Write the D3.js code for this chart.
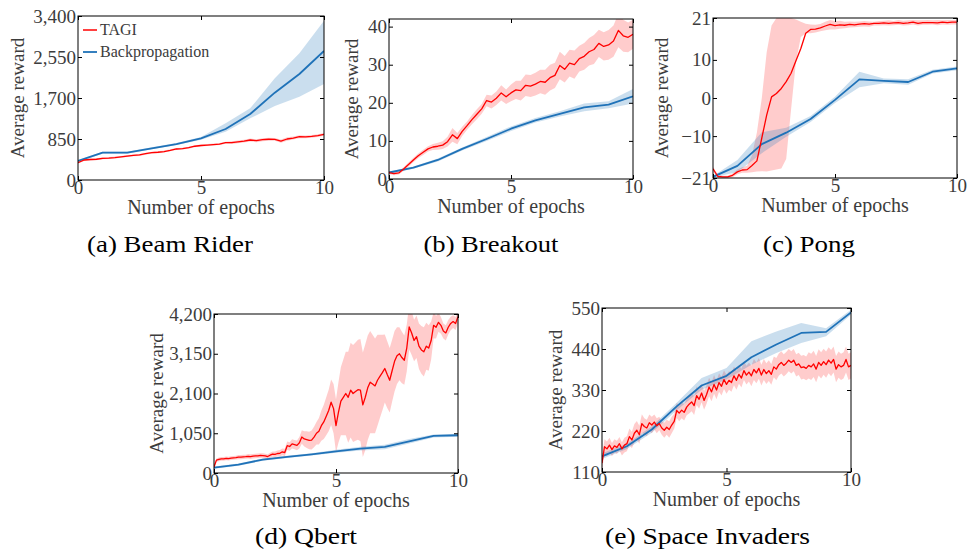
<!DOCTYPE html>
<html><head><meta charset="utf-8">
<script src="https://cdn.jsdelivr.net/npm/d3@7"></script>
<style>
body{margin:0;background:#fff}
svg{display:block}
text{font-family:"Liberation Serif","Times New Roman",serif}
</style>
</head><body>
<svg id="chart" width="967" height="552"></svg>
<script>
// ---------------- DATA ----------------
const seriesNames = ["TAGI", "Backpropagation"];
const xTicks = [0, 5, 10];
const bpEpochs = [0,1,2,3,4,5,6,7,8,9,10];
const epochsQuarter = [0,0.25,0.5,0.75,1,1.25,1.5,1.75,2,2.25,2.5,2.75,3,3.25,3.5,3.75,4,4.25,4.5,4.75,5,5.25,5.5,5.75,6,6.25,6.5,6.75,7,7.25,7.5,7.75,8,8.25,8.5,8.75,9,9.25,9.5,9.75,10];
const epochsFifth = [0,0.2,0.4,0.6,0.8,1,1.2,1.4,1.6,1.8,2,2.2,2.4,2.6,2.8,3,3.2,3.4,3.6,3.8,4,4.2,4.4,4.6,4.8,5,5.2,5.4,5.6,5.8,6,6.2,6.4,6.6,6.8,7,7.2,7.4,7.6,7.8,8,8.2,8.4,8.6,8.8,9,9.2,9.4,9.6,9.8,10];
const epochsTenth = [0,0.1,0.2,0.3,0.4,0.5,0.6,0.7,0.8,0.9,1,1.1,1.2,1.3,1.4,1.5,1.6,1.7,1.8,1.9,2,2.1,2.2,2.3,2.4,2.5,2.6,2.7,2.8,2.9,3,3.1,3.2,3.3,3.4,3.5,3.6,3.7,3.8,3.9,4,4.1,4.2,4.3,4.4,4.5,4.6,4.7,4.8,4.9,5,5.1,5.2,5.3,5.4,5.5,5.6,5.7,5.8,5.9,6,6.1,6.2,6.3,6.4,6.5,6.6,6.7,6.8,6.9,7,7.1,7.2,7.3,7.4,7.5,7.6,7.7,7.8,7.9,8,8.1,8.2,8.3,8.4,8.5,8.6,8.7,8.8,8.9,9,9.1,9.2,9.3,9.4,9.5,9.6,9.7,9.8,9.9,10];

// (a) Beam Rider
const beamTicks = [0, 850, 1700, 2550, 3400];
const beamTagi = [360,415,425,430,450,455,465,480,497,510,520,545,566,575,590,615,643,650,670,700,715,725,735,745,773,775,790,805,829,815,835,845,843,805,850,870,898,895,905,920,945];
const beamTagiSpread = [20,20,20,20,20,20,20,20,20,20,20,20,20,20,20,20,20,20,20,20,20,20,20,20,20,30,30,30,30,30,30,30,30,35,35,30,30,30,30,30,30];
const beamBp = [394,566,566,657,746,864,1057,1368,1810,2198,2674];
const beamBpLow = [374,546,546,637,726,834,1001,1279,1534,1727,1990];
const beamBpHigh = [414,586,586,677,766,894,1175,1486,2108,2626,3303];

// (b) Breakout
const breakoutTicks = [0, 10, 20, 30, 40];
const breakoutTagi = [1.7,1.4,1.6,2.6,3.8,5.0,6.1,7.0,7.9,8.4,8.6,8.9,9.8,11.6,10.6,12.5,14.0,15.6,17.0,18.4,20.6,20.2,21.2,22.6,21.6,22.6,23.4,23.2,24.6,24.4,24.9,25.6,25.4,26.6,27.2,29.8,28.8,30.4,30.0,31.6,32.2,33.4,34.0,35.6,34.8,35.2,36.2,39.0,37.6,37.2,38.0];
const breakoutTagiSpread = [0.4,0.4,0.4,0.5,0.5,0.6,0.6,0.7,0.7,0.8,0.9,1.0,1.3,1.8,1.5,1.2,1.1,1.2,1.3,1.3,1.5,1.7,1.8,2.0,1.9,2.2,2.4,2.6,2.8,2.9,3.0,3.1,3.3,3.4,3.3,3.6,3.5,3.5,3.7,3.4,3.5,3.6,3.8,3.6,3.7,3.9,4.1,4.4,4.2,3.9,3.8];
const breakoutBp = [1.7,3.0,5.0,7.9,10.5,13.2,15.4,17.1,18.8,19.5,21.7];
const breakoutBpLow = [1.4,2.7,4.6,7.5,10.0,12.6,14.8,16.4,17.8,18.6,19.8];
const breakoutBpHigh = [2.0,3.3,5.4,8.3,11.0,13.8,16.0,17.8,19.8,20.4,23.6];

// (c) Pong
const pongTicks = [-21, -10, 0, 10, 21];
const pongTagi = [-18.6,-20.6,-20.7,-20.7,-20.3,-19.4,-18.9,-18.8,-17.7,-16.5,-10.5,-4.5,0.3,1.2,2.5,4.3,6.5,9.8,13.0,17.0,18.0,18.1,18.4,18.9,19.3,19.0,19.2,19.1,19.3,19.2,19.4,19.5,19.4,19.6,19.6,19.7,19.6,19.7,19.8,19.6,19.7,19.9,19.6,19.8,19.8,19.8,19.7,19.9,19.8,19.9,19.9];
const pongTagiLow = [-19.2,-21.0,-21.0,-21.0,-20.8,-20.0,-19.6,-19.6,-19.5,-19.3,-19.2,-19.3,-19.0,-18.8,-18.5,-16.0,-3.0,9.5,16.0,17.0,17.0,17.2,17.5,17.8,18.0,18.0,18.2,18.3,18.5,18.6,18.7,18.8,18.7,19.0,19.0,19.1,19.0,19.1,19.2,19.0,19.1,19.3,19.0,19.2,19.2,19.3,19.1,19.3,19.2,19.3,19.3];
const pongTagiHigh = [-18.0,-20.2,-20.4,-20.4,-19.8,-18.8,-18.2,-17.8,-15.0,-9.0,0.0,12.0,19.0,21.0,21.0,21.0,21.0,20.6,20.0,19.5,19.3,19.2,19.4,20.0,20.5,20.2,20.3,20.0,20.1,20.0,20.1,20.2,20.1,20.0,20.2,20.3,20.4,20.2,20.5,20.3,20.4,20.5,20.4,20.4,20.5,20.4,20.5,20.4,20.5,20.5,20.5];
const pongBp = [-20.7,-17.8,-12.1,-9.1,-5.5,-0.5,4.9,4.5,4.2,6.9,7.8];
const pongBpLow = [-20.9,-19.4,-14.5,-10.2,-6.3,-1.3,2.8,3.9,3.5,6.4,7.3];
const pongBpHigh = [-20.5,-16.3,-9.0,-7.8,-4.7,0.3,6.9,5.1,4.9,7.4,8.3];

// (d) Qbert
const qbertTicks = [0, 1050, 2100, 3150, 4200];
const qbertTagi = [
  160,340,360,375,372,385,380,392,400,405,
  420,418,425,430,440,432,445,450,455,465,
  460,450,435,470,500,490,515,520,560,540,
  720,700,770,750,730,800,950,900,880,860,
  870,950,1050,1100,1250,1350,1500,1650,1870,1700,
  1250,1600,1900,2000,2100,2000,2190,2100,2150,2200,
  2190,1800,2000,2250,2400,2350,2300,2450,2550,2650,
  2760,2600,2450,2700,2950,3100,3150,3050,2980,3300,
  3860,3700,3500,3600,3350,3250,3200,3350,3300,3500,
  3900,3850,3980,3900,3750,3700,3850,3950,4000,3950,
  4130];
const qbertTagiSpread = [
  40,45,50,50,50,50,50,50,50,50,
  55,55,55,55,60,60,60,60,60,60,
  60,60,60,65,70,75,80,85,90,100,
  110,115,120,125,130,150,180,200,220,230,
  250,270,300,350,400,450,500,550,600,650,
  700,800,900,1000,1100,1200,1250,1280,1300,1320,
  1350,1380,1400,1380,1350,1300,1250,1200,1100,1000,
  900,880,850,820,800,750,700,680,650,620,
  600,580,550,560,600,630,650,620,600,500,
  350,300,250,220,200,200,190,180,170,170,
  170];
const qbertBp = [141,221,353,424,494,574,644,688,838,979,997];
const qbertBpLow = [111,191,323,394,464,534,594,628,778,939,957];
const qbertBpHigh = [171,251,383,454,524,614,694,748,898,1019,1037];

// (e) Space Invaders
const spaceTicks = [110, 220, 330, 440, 550];
const spaceTagi = [
  134,178,172,182,170,180,176,186,172,182,
  186,205,196,214,222,210,240,232,228,242,
  236,244,234,240,228,222,230,224,236,246,
  275,268,276,270,284,292,298,288,315,305,
  322,302,318,338,325,345,330,350,340,358,
  345,356,350,368,356,372,362,382,370,378,
  368,385,376,388,370,385,374,382,372,392,
  386,398,404,396,402,410,404,410,396,400,
  390,392,388,396,392,400,386,404,396,406,
  398,410,402,412,386,398,392,396,412,392,
  396];
const spaceTagiSpread = [
  18,20,20,20,18,18,18,18,18,20,
  20,22,22,25,25,24,25,22,22,22,
  22,20,20,18,18,20,20,22,22,20,
  20,22,22,22,22,25,25,25,25,25,
  25,25,25,25,25,25,25,25,25,25,
  25,25,25,25,25,25,25,25,25,25,
  28,28,28,28,28,28,28,28,28,28,
  30,30,30,30,30,30,30,30,30,30,
  32,32,32,35,35,35,35,35,35,35,
  35,35,35,35,35,35,35,35,35,35,
  35];
const spaceBp = [152,179,224,286,342,368,418,452,483,486,538];
const spaceBpLow = [145,172,215,276,331,358,398,429,456,474,532];
const spaceBpHigh = [160,186,233,296,362,389,461,487,510,496,545];

const captions = ["(a) Beam Rider", "(b) Breakout", "(c) Pong", "(d) Qbert", "(e) Space Invaders"];
const xLabel = "Number of epochs";
const yLabel = "Average reward";

// ---------------- PANELS ----------------
const panels = [
  {id:"a", caption:captions[0], yTicks:beamTicks, tagiX:epochsQuarter, tagiMean:beamTagi, tagiSpread:beamTagiSpread, bpMean:beamBp, bpLow:beamBpLow, bpHigh:beamBpHigh, legend:true},
  {id:"b", caption:captions[1], yTicks:breakoutTicks, yMax:42, tagiX:epochsFifth, tagiMean:breakoutTagi, tagiSpread:breakoutTagiSpread, bpMean:breakoutBp, bpLow:breakoutBpLow, bpHigh:breakoutBpHigh},
  {id:"c", caption:captions[2], yTicks:pongTicks, tagiX:epochsFifth, tagiMean:pongTagi, tagiLow:pongTagiLow, tagiHigh:pongTagiHigh, bpMean:pongBp, bpLow:pongBpLow, bpHigh:pongBpHigh},
  {id:"d", caption:captions[3], yTicks:qbertTicks, tagiX:epochsTenth, tagiMean:qbertTagi, tagiSpread:qbertTagiSpread, bpMean:qbertBp, bpLow:qbertBpLow, bpHigh:qbertBpHigh},
  {id:"e", caption:captions[4], yTicks:spaceTicks, tagiX:epochsTenth, tagiMean:spaceTagi, tagiSpread:spaceTagiSpread, bpMean:spaceBp, bpLow:spaceBpLow, bpHigh:spaceBpHigh}
];

// layout (pixels)
const layout = {
  a:{l:78, r:324, t:16, b:180, ylabX:18, capX:170, capY:251.5, capW:166},
  b:{l:389, r:633, t:19, b:179, ylabX:352, capX:491, capY:251.5, capW:135},
  c:{l:713, r:957, t:18, b:178, ylabX:662, capX:809, capY:251.5, capW:92},
  d:{l:214, r:458, t:314, b:473, ylabX:157, capX:306, capY:544, capW:102},
  e:{l:602, r:851, t:308, b:472, ylabX:556, capX:707.5, capY:544, capW:205}
};

const FONT = '"Liberation Serif","Times New Roman",serif';
const RED = "#ff0000", BLUE = "#1f72b8";
const TEXT = "#3c3c3c";
const svg = d3.select("#chart");
const fmt = d3.format(",");

function styleAxis(g, showText){
  g.attr("font-family", null).attr("font-size", null);
  g.select(".domain").remove();
  g.selectAll(".tick line").attr("stroke", "#000").attr("stroke-width", 1);
  g.selectAll(".tick text")
    .attr("fill", TEXT)
    .style("font-family", FONT)
    .style("font-size", "19px");
  if (!showText) g.selectAll(".tick text").remove();
}

panels.forEach(p => {
  const L = layout[p.id];
  const yMin = p.yTicks[0];
  const yMax = p.yMax !== undefined ? p.yMax : p.yTicks[p.yTicks.length - 1];
  const x = d3.scaleLinear().domain([0, 10]).range([L.l, L.r]);
  const y = d3.scaleLinear().domain([yMin, yMax]).range([L.b, L.t]);

  const clipId = "clip-" + p.id;
  svg.append("clipPath").attr("id", clipId)
    .append("rect").attr("x", L.l).attr("y", L.t).attr("width", L.r - L.l).attr("height", L.b - L.t);

  const tagi = p.tagiX.map((e, i) => ({
    e, m: p.tagiMean[i],
    lo: p.tagiLow ? p.tagiLow[i] : p.tagiMean[i] - p.tagiSpread[i],
    hi: p.tagiHigh ? p.tagiHigh[i] : p.tagiMean[i] + p.tagiSpread[i]
  }));
  const bp = bpEpochs.map((e, i) => ({e, m: p.bpMean[i], lo: p.bpLow[i], hi: p.bpHigh[i]}));

  const area = d3.area().x(d => x(d.e)).y0(d => y(d.lo)).y1(d => y(d.hi));
  const line = d3.line().x(d => x(d.e)).y(d => y(d.m));

  const plot = svg.append("g").attr("clip-path", `url(#${clipId})`);
  plot.append("path").datum(tagi).attr("d", area).attr("fill", RED).attr("fill-opacity", 0.2);
  plot.append("path").datum(bp).attr("d", area).attr("fill", "#2b7bba").attr("fill-opacity", 0.25);
  plot.append("path").datum(bp).attr("d", line).attr("fill", "none").attr("stroke", BLUE).attr("stroke-width", 1.8).attr("stroke-linejoin", "round");
  plot.append("path").datum(tagi).attr("d", line).attr("fill", "none").attr("stroke", RED).attr("stroke-width", 1.3).attr("stroke-linejoin", "round");

  // axes (inward ticks on all four sides)
  svg.append("g").attr("transform", `translate(0,${L.b})`)
    .call(d3.axisBottom(x).tickValues(xTicks).tickSizeInner(-4).tickSizeOuter(0).tickPadding(0).tickFormat(fmt))
    .call(g => styleAxis(g, true));
  svg.append("g").attr("transform", `translate(0,${L.t})`)
    .call(d3.axisTop(x).tickValues(xTicks).tickSizeInner(-4).tickSizeOuter(0))
    .call(g => styleAxis(g, false));
  svg.append("g").attr("transform", `translate(${L.l},0)`)
    .call(d3.axisLeft(y).tickValues(p.yTicks).tickSizeInner(-4).tickSizeOuter(0).tickPadding(2).tickFormat(fmt))
    .call(g => styleAxis(g, true));
  svg.append("g").attr("transform", `translate(${L.r},0)`)
    .call(d3.axisRight(y).tickValues(p.yTicks).tickSizeInner(-4).tickSizeOuter(0))
    .call(g => styleAxis(g, false));

  // frame
  svg.append("rect").attr("x", L.l).attr("y", L.t).attr("width", L.r - L.l).attr("height", L.b - L.t)
    .attr("fill", "none").attr("stroke", "#000").attr("stroke-width", 1);

  // axis labels
  svg.append("text").attr("x", (L.l + L.r) / 2).attr("y", L.b + 33.5)
    .attr("text-anchor", "middle").attr("fill", TEXT)
    .style("font-family", FONT).style("font-size", "20px").text(xLabel);
  svg.append("text").attr("transform", `translate(${L.ylabX},${(L.t + L.b) / 2}) rotate(-90)`)
    .attr("text-anchor", "middle").attr("dy", "0.32em").attr("fill", TEXT)
    .style("font-family", FONT).style("font-size", "19px").text(yLabel);

  // caption
  svg.append("text").attr("x", L.capX).attr("y", L.capY).attr("text-anchor", "middle")
    .attr("fill", "#000").style("font-family", FONT).style("font-size", "23px")
    .attr("textLength", L.capW).attr("lengthAdjust", "spacingAndGlyphs")
    .text(p.caption);

  // legend
  if (p.legend) {
    const lg = svg.append("g");
    const colors = [RED, BLUE];
    const ys = [30, 52];
    seriesNames.forEach((name, i) => {
      lg.append("line").attr("x1", L.l + 5).attr("x2", L.l + 19).attr("y1", ys[i]).attr("y2", ys[i])
        .attr("stroke", colors[i]).attr("stroke-width", i === 0 ? 1.5 : 1.8);
      lg.append("text").attr("x", L.l + 22).attr("y", ys[i]).attr("dy", "0.33em")
        .attr("fill", TEXT).style("font-family", FONT).style("font-size", "16px").text(name);
    });
  }
});
</script>
</body></html>
